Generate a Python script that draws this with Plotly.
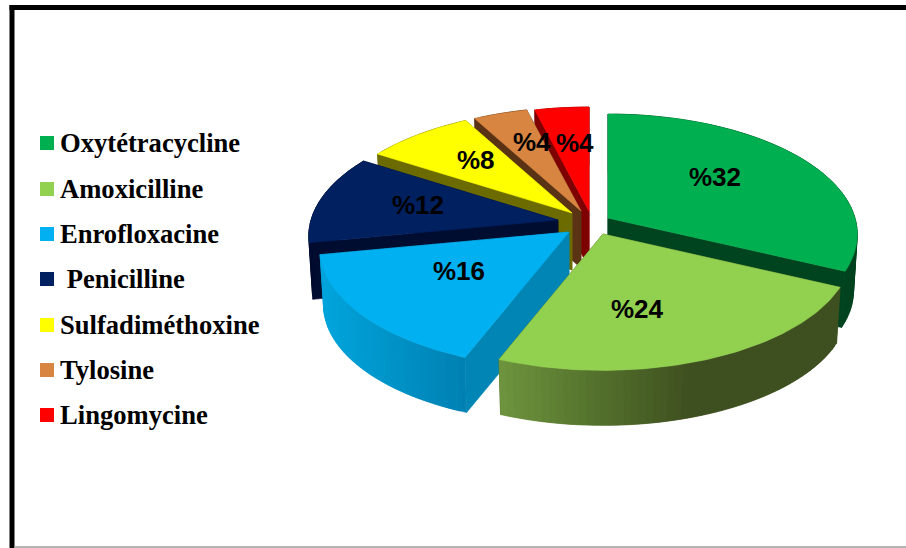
import numpy as np
import plotly.graph_objects as go

# Data
categories = ["Oxytétracycline", "Amoxicilline", "Enrofloxacine", " Penicilline",
              "Sulfadiméthoxine", "Tylosine", "Lingomycine"]
values = [32, 24, 16, 12, 8, 4, 4]
value_labels = ["%32", "%24", "%16", "%12", "%8", "%4", "%4"]

# Styles
top_colors = ["#00b050", "#92d050", "#00b0f0", "#002060", "#ffff00", "#d98542", "#ff0000"]
face_colors = ["#00431f", "#3e5122", "#0085b5", "#000d30", "#6b6b00", "#5a3315", "#7f0000"]
wall_stops = {
    0: [(600, (0, 67, 31)), (860, (0, 67, 31))],
    1: [(500, (110, 148, 62)), (590, (85, 115, 45)), (690, (62, 80, 32)), (840, (62, 80, 32))],
    2: [(320, (0, 165, 220)), (466, (0, 128, 178))],
    3: [(300, (0, 13, 48)), (400, (0, 13, 48))],
    4: [(300, (107, 107, 0)), (500, (107, 107, 0))],
    5: [(450, (90, 51, 21)), (600, (90, 51, 21))],
    6: [(500, (127, 0, 0)), (600, (127, 0, 0))],
}

# Layout of the projected pie
apexes = [(608, 218), (603, 234), (569, 232), (558, 220), (572, 213), (581, 211), (589, 211)]
R, RY, K, DEPTH, SHRINK = 247.0, 118.0, 0.135, 57.0, 0.985
label_pos = [(715, 177), (637, 309), (459, 271), (418, 205), (476, 160), (532, 142), (575, 143)]
draw_order = [6, 5, 4, 3, 0, 2, 1]
legend_x, legend_text_x = 47, 58
legend_y = [143, 189, 234, 279, 325, 370, 415]

fractions = np.array(values, dtype=float) / sum(values)
edges = np.concatenate([[0.0], np.cumsum(fractions)]) * 2 * np.pi


def rim(theta, apex):
    s = 1.0 / (1.0 + K * np.cos(theta))
    return apex[0] + R * np.sin(theta) * s, apex[1] - RY * np.cos(theta) * s


def lower(x, y, apex):
    return apex[0] + (x - apex[0]) * SHRINK, apex[1] + (y - apex[1]) * SHRINK + DEPTH


def shade(x, stops):
    xs = [p[0] for p in stops]
    rgb = [np.interp(x, xs, [p[1][i] for p in stops]) for i in range(3)]
    return "rgb(%d,%d,%d)" % tuple(int(round(c)) for c in rgb)


def poly(fig, xs, ys, color, width=0.6):
    fig.add_trace(go.Scatter(x=list(xs) + [xs[0]], y=list(ys) + [ys[0]], mode="lines",
                             fill="toself", fillcolor=color,
                             line=dict(color=color, width=width),
                             hoverinfo="skip", showlegend=False))


fig = go.Figure()
for i in draw_order:
    a = apexes[i]
    t0, t1 = edges[i], edges[i + 1]
    ax_low = lower(a[0], a[1], a)
    # radial faces
    for t in (t0, t1):
        rx, ry = rim(t, a)
        lx, ly = lower(rx, ry, a)
        poly(fig, [a[0], rx, lx, ax_low[0]], [a[1], ry, ly, ax_low[1]], face_colors[i])
    # outer wall as shaded strips; each strip runs to the end so later ones paint over it
    n = max(6, int((t1 - t0) / np.radians(1.5)))
    ts = np.linspace(t0, t1, n + 1)
    for k in range(n):
        t_a, t_mid = ts[k], ts[k + 1]
        sub = np.linspace(t_a, ts[min(k + 2, n)], 5)
        xs, ys = rim(sub, a)
        lxs, lys = lower(xs, ys, a)
        mx, _ = rim((t_a + t_mid) / 2, a)
        poly(fig, list(xs) + list(lxs[::-1]), list(ys) + list(lys[::-1]),
             shade(mx, wall_stops[i]), width=0.4)
    # top face
    tt = np.linspace(t0, t1, 90)
    px, py = rim(tt, a)
    poly(fig, [a[0]] + list(px), [a[1]] + list(py), top_colors[i])

# Legend swatches
fig.add_trace(go.Scatter(x=[legend_x] * len(categories), y=legend_y, mode="markers",
                         marker=dict(symbol="square", size=14, color=top_colors,
                                     line=dict(width=0)),
                         hoverinfo="skip", showlegend=False))

annotations = []
for name, y in zip(categories, legend_y):
    annotations.append(dict(x=legend_text_x, y=y, xref="x", yref="y",
                            text="<b>%s</b>" % name.replace(" ", "&nbsp;"),
                            showarrow=False, xanchor="left", yanchor="middle",
                            font=dict(family="Liberation Serif", size=26.6, color="#000000")))
for lab, (x, y) in zip(value_labels, label_pos):
    annotations.append(dict(x=x, y=y, xref="x", yref="y", text="<b>%s</b>" % lab,
                            showarrow=False, xanchor="center", yanchor="middle",
                            font=dict(family="Liberation Sans", size=26, color="#000000")))

shapes = [
    dict(type="rect", xref="x", yref="y", x0=9.5, x1=14.5, y0=5, y1=548, fillcolor="#000000", line_width=0),
    dict(type="rect", xref="x", yref="y", x0=9.5, x1=906, y0=5, y1=10, fillcolor="#000000", line_width=0),
    dict(type="rect", xref="x", yref="y", x0=14.5, x1=906, y0=546, y1=548, fillcolor="#b4b4b4", line_width=0),
]

fig.update_layout(
    width=906, height=548, margin=dict(l=0, r=0, t=0, b=0),
    paper_bgcolor="#ffffff", plot_bgcolor="#ffffff",
    xaxis=dict(range=[0, 906], visible=False, fixedrange=True),
    yaxis=dict(range=[548, 0], visible=False, fixedrange=True),
    annotations=annotations, shapes=shapes, showlegend=False,
)
fig.write_html("out.html", config={"displayModeBar": False},
               post_script="document.body.style.margin='0';document.body.style.overflow='hidden';")
